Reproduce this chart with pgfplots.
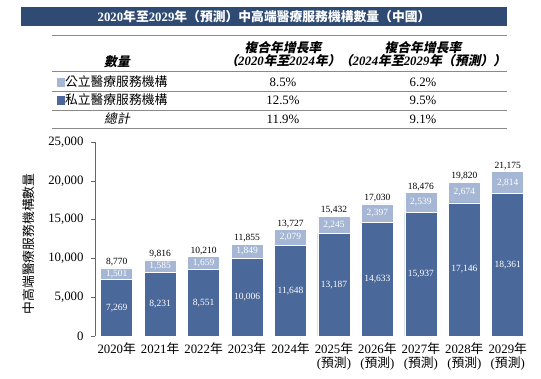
\documentclass[border=0pt]{standalone}
\usepackage{pgfplots}
\pgfplotsset{compat=1.18}
\usepackage{pgfplotstable}
\usepackage{fontspec}
\setmainfont{Liberation Serif}
\newfontfamily\cjk{Noto Sans CJK TC}
\newfontfamily\cjkit[FakeSlant=0.2]{Noto Sans CJK TC}
\definecolor{navy}{HTML}{2F4B74}
\definecolor{darkbar}{HTML}{4A6899}
\definecolor{lightbar}{HTML}{A5B7D5}
\definecolor{rulec}{HTML}{8A8A8A}
\pgfplotstableread{
x priv pub tot privmid pubmid
0 7269 1501 8770 3634.5 8019.5
1 8231 1585 9816 4115.5 9023.5
2 8551 1659 10210 4275.5 9380.5
3 10006 1849 11855 5003 10930.5
4 11648 2079 13727 5824 12687.5
5 13187 2245 15432 6593.5 14309.5
6 14633 2397 17030 7316.5 15831.5
7 15937 2539 18476 7968.5 17206.5
8 17146 2674 19820 8573 18483
9 18361 2814 21175 9180.5 19768
}\datatable
\newcommand{\bigf}{\fontsize{12.8}{14}\selectfont}
\begin{document}
\begin{tikzpicture}[x=1pt,y=1pt]
\useasboundingbox (0,0) rectangle (541,379);
% title band
\fill[navy] (21,372) rectangle (507,353);
\node[text=white, font=\bigf\bfseries] at (264,362.5) {2020{\cjk\bfseries 年至}2029{\cjk\bfseries 年（預測）中高端醫療服務機構數量（中國）}};
% table rules
\draw[rulec, line width=0.9pt] (52,344) -- (507,344);
\draw[rulec, line width=0.7pt] (52,308) -- (507,308);
\draw[rulec, line width=0.7pt] (52,288) -- (507,288);
\draw[rulec, line width=0.7pt] (52,269) -- (507,269);
\draw[rulec, line width=0.7pt] (52,251) -- (507,251);
% header
\node[font=\bigf\bfseries] at (117,317) {\cjkit\bfseries 數量};
\node[font=\bigf\bfseries] at (283,331) {\cjkit\bfseries 複合年增長率};
\node[font=\bigf\bfseries\itshape] at (283,318) {{\cjkit\bfseries （}2020{\cjkit\bfseries 年至}2024{\cjkit\bfseries 年）}};
\node[font=\bigf\bfseries] at (423,331) {\cjkit\bfseries 複合年增長率};
\node[font=\bigf\bfseries\itshape] at (423,318) {{\cjkit\bfseries （}2024{\cjkit\bfseries 年至}2029{\cjkit\bfseries 年（預測））}};
% rows
\node[font=\bigf, anchor=west] at (53,297) {\textcolor{lightbar}{\rule{8.5pt}{8.5pt}}{\cjk 公立醫療服務機構}};
\node[font=\bigf, anchor=west] at (53,279) {\textcolor{darkbar}{\rule{8.5pt}{8.5pt}}{\cjk 私立醫療服務機構}};
\node[font=\bigf] at (117,260) {\cjkit 總計};
\node[font=\bigf] at (283,297) {8.5\%};
\node[font=\bigf] at (423,297) {6.2\%};
\node[font=\bigf] at (283,279) {12.5\%};
\node[font=\bigf] at (423,279) {9.5\%};
\node[font=\bigf] at (283,260) {11.9\%};
\node[font=\bigf] at (423,260) {9.1\%};
% y label
\node[rotate=90, font=\bigf\cjk] at (29,135) {中高端醫療服務機構數量};
\begin{axis}[
  at={(95pt,43pt)}, anchor=south west, scale only axis,
  width=434.5pt, height=194pt,
  xmin=-0.5, xmax=9.5, ymin=0, ymax=25000,
  axis lines*=left,
  axis line style={-},
  x axis line style={draw=none},
  y axis line style={draw=gray!80!black},
  xtick={0,...,9},
  xtick style={draw=none},
  ytick={0,5000,10000,15000,20000,25000},
  ytick style={draw=gray!80!black, thin},
  tick align=outside,
  major tick length=4pt,
  scaled y ticks=false,
  yticklabel style={font=\bigf, xshift=-4pt, /pgf/number format/.cd, 1000 sep={,}, assume math mode=true},
  xticklabel style={font=\bigf, align=center, yshift=1pt},
  xticklabels={2020{\cjk 年},2021{\cjk 年},2022{\cjk 年},2023{\cjk 年},2024{\cjk 年},{2025{\cjk 年}\\({\cjk 預測})},{2026{\cjk 年}\\({\cjk 預測})},{2027{\cjk 年}\\({\cjk 預測})},{2028{\cjk 年}\\({\cjk 預測})},{2029{\cjk 年}\\({\cjk 預測})}},
  clip=false,
]
\addplot[ybar, bar width=32pt, bar shift=0pt, fill=lightbar, draw=white, line width=0.6pt,
  point meta=y,
  nodes near coords={\pgfmathprintnumber[fixed, precision=0, 1000 sep={,}, assume math mode=true]{\pgfplotspointmeta}},
  nodes near coords style={font=\fontsize{9.5}{11}\selectfont, text=black, inner sep=1.5pt}]
  table[x=x, y=tot] {\datatable};
\addplot[ybar, bar width=32pt, bar shift=0pt, fill=darkbar, draw=white, line width=0.6pt]
  table[x=x, y=priv] {\datatable};
\addplot[draw=none, mark=none, point meta=explicit,
  nodes near coords={\pgfmathprintnumber[fixed, precision=0, 1000 sep={,}, assume math mode=true]{\pgfplotspointmeta}},
  nodes near coords style={font=\fontsize{9.5}{11}\selectfont, text=white, anchor=center}]
  table[x=x, y=privmid, meta=priv] {\datatable};
\addplot[draw=none, mark=none, point meta=explicit,
  nodes near coords={\pgfmathprintnumber[fixed, precision=0, 1000 sep={,}, assume math mode=true]{\pgfplotspointmeta}},
  nodes near coords style={font=\fontsize{9.5}{11}\selectfont, text=white, anchor=center}]
  table[x=x, y=pubmid, meta=pub] {\datatable};
\end{axis}
\end{tikzpicture}
\end{document}
